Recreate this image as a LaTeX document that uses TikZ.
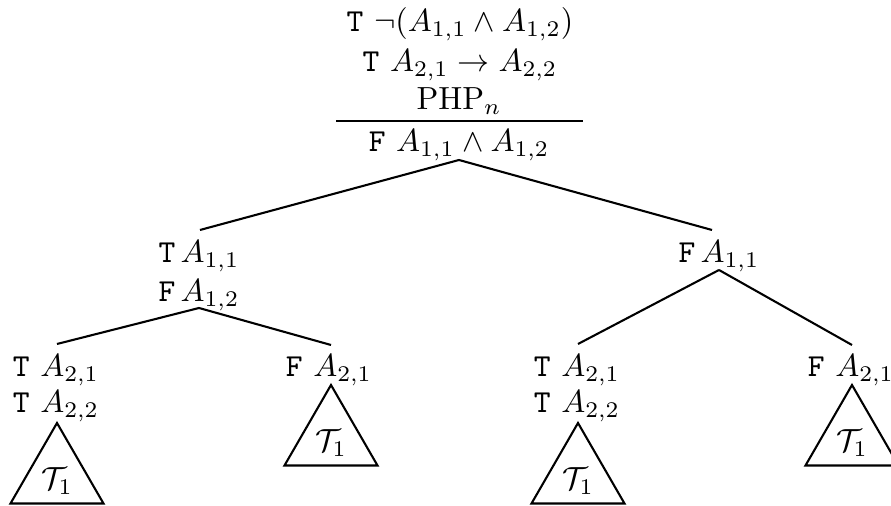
\documentclass[tikz,border=0pt]{standalone}
\begin{document}
\begin{tikzpicture}[x=0.3125pt,y=-0.3125pt,
  lbl/.style={anchor=base,inner sep=0pt,outer sep=0pt},
  edge/.style={line width=0.65pt},
  tri/.style={line width=0.65pt}]
\useasboundingbox (0,0) rectangle (891,506);
\clip (0,0) rectangle (891,506);
% root block
\node[lbl] (r1) at (460,32) {$\texttt{T}\ \neg(A_{1,1}\wedge A_{1,2})$};
\node[lbl] (r2) at (460,72) {$\texttt{T}\ A_{2,1}\rightarrow A_{2,2}$};
\node[lbl] (r3) at (459,110) {$\mathrm{PHP}_n$};
\coordinate (ruleL) at (336,121);
\coordinate (ruleR) at (583,121);
\draw[edge] (ruleL) -- (ruleR);
\node[lbl] (r4) at (459,152) {$\texttt{F}\ A_{1,1}\wedge A_{1,2}$};
\coordinate (rb) at (459,160);
% level 1
\node[lbl] (l1) at (199,263) {$\texttt{T}\,A_{1,1}$};
\node[lbl] (l2) at (199,302) {$\texttt{F}\,A_{1,2}$};
\coordinate (lt) at (200,230);
\coordinate (lb) at (199,308);
\node[lbl] (m1) at (719,263) {$\texttt{F}\,A_{1,1}$};
\coordinate (mt) at (712,230);
\coordinate (mb) at (719,270);
\draw[edge] (rb) -- (lt);
\draw[edge] (rb) -- (mt);
% level 2 labels
\node[lbl] (a1) at (56,377) {$\texttt{T}\ A_{2,1}$};
\node[lbl] (a2) at (56,413) {$\texttt{T}\ A_{2,2}$};
\node[lbl] (b1) at (329,377) {$\texttt{F}\ A_{2,1}$};
\node[lbl] (c1) at (577,377) {$\texttt{T}\ A_{2,1}$};
\node[lbl] (c2) at (577,413) {$\texttt{T}\ A_{2,2}$};
\node[lbl] (d1) at (851,377) {$\texttt{F}\ A_{2,1}$};
\coordinate (at) at (57,344);
\coordinate (bt) at (331,345);
\coordinate (ct) at (578,344);
\coordinate (dt) at (852,345);
\draw[edge] (lb) -- (at);
\draw[edge] (lb) -- (bt);
\draw[edge] (mb) -- (ct);
\draw[edge] (mb) -- (dt);
% triangles
\foreach \n/\x/\y in {ta/57/423, tb/331/385, tc/578/423, td/852/385}{
  \coordinate (\n-top) at (\x,\y);
  \coordinate (\n-l) at (\x-46.5,\y+80.5);
  \coordinate (\n-r) at (\x+46.5,\y+80.5);
  \draw[tri,line join=miter] (\n-top) -- (\n-r) -- (\n-l) -- cycle;
  \node (\n-lab) at (\x,\y+58) {$\mathcal{T}_1$};
}
\end{tikzpicture}
\end{document}
